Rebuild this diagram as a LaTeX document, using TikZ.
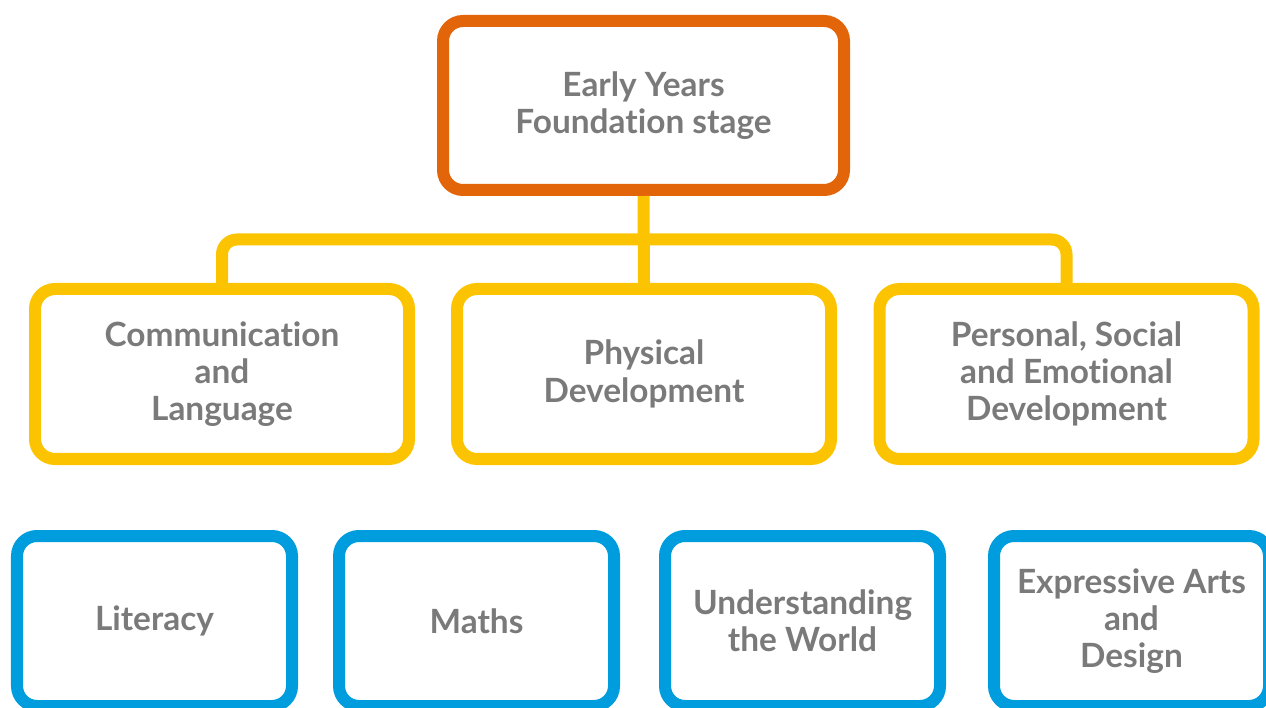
\documentclass[tikz,border=0pt]{standalone}
\usepackage{fontspec}
\setmainfont{Lato}[Ligatures=NoCommon]
\usetikzlibrary{positioning,calc}
\definecolor{eyorange}{RGB}{227,101,10}
\definecolor{eyyellow}{RGB}{252,196,0}
\definecolor{eyblue}{RGB}{0,157,222}
\definecolor{textgray}{RGB}{122,122,122}
\begin{document}
\begin{tikzpicture}[
        box/.style={draw,line width=0.24cm,rounded corners=0.4cm,align=center,text=textgray,
            font=\bfseries\fontsize{19}{21.2}\selectfont,minimum height=3.4cm,inner sep=0pt},
        link/.style={draw=eyyellow,line width=0.24cm,rounded corners=0.3cm}]
    \useasboundingbox (0,0) rectangle (25.32,14.14);
    %% top box
    \node[box,draw=eyorange,minimum width=8.02cm,minimum height=3.38cm] (eyfs) at (12.87,12.03) {Early Years\\Foundation stage};
    %% prime areas
    \node[box,draw=eyyellow,minimum width=7.48cm] (cl) at (4.44,6.66) {Communication\\and\\Language};
    \node[box,draw=eyyellow,minimum width=7.48cm] (pd) at (12.88,6.66) {Physical\\Development};
    \node[box,draw=eyyellow,minimum width=7.48cm] (psed) at (21.33,6.66) {Personal, Social\\and Emotional\\Development};
    %% specific areas
    \foreach \name/\x/\txt in {lit/3.09/Literacy, ma/9.53/Maths, uw/16.05/{Understanding\\the World}, ead/22.63/{Expressive Arts\\and\\Design}}
        \node[box,draw=eyblue,minimum width=5.5cm] (\name) at (\x,1.72) {\txt};
    %% connectors
    \draw[link] (eyfs.south) -- (pd.north);
    \draw[link] (cl.north) |- ($(eyfs.south)!.5!(pd.north)$) -| (psed.north);
\end{tikzpicture}
\end{document}
